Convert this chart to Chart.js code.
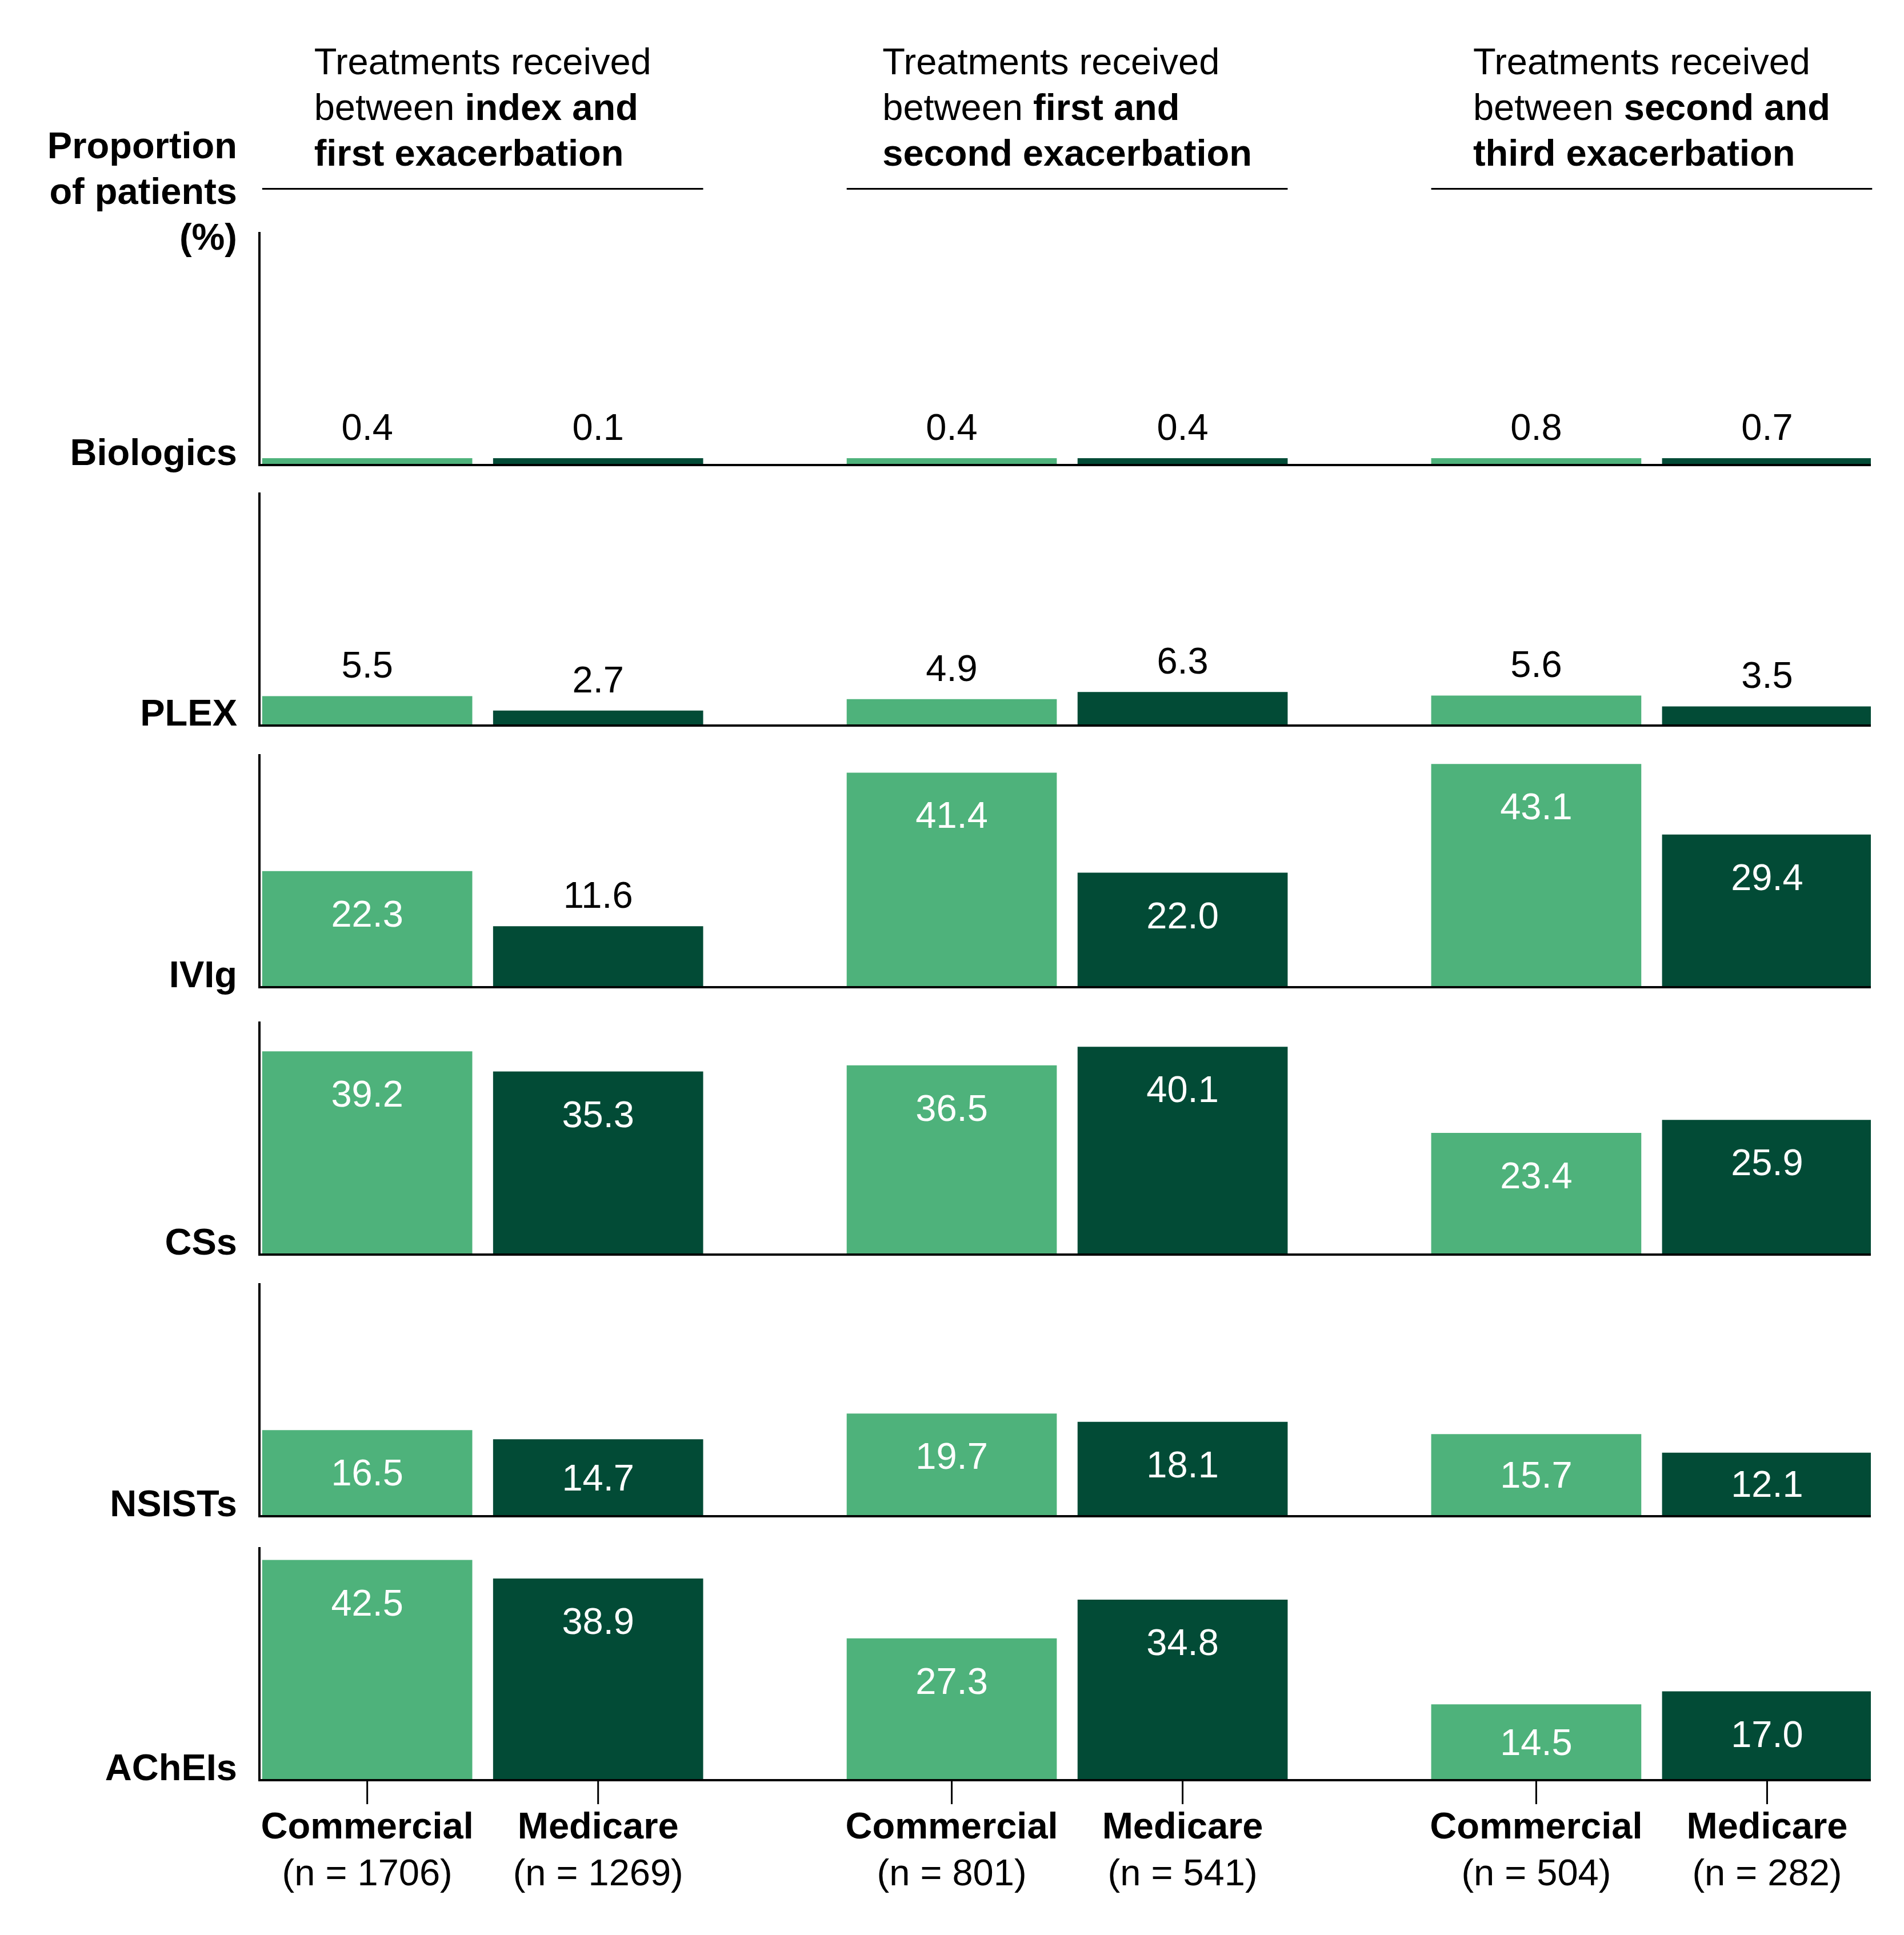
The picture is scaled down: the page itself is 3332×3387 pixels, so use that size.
<!DOCTYPE html>
<html>
<head>
<meta charset="utf-8">
<script src="https://cdn.jsdelivr.net/npm/chart.js@4.4.1/dist/chart.umd.min.js"></script>
<style>
  html, body { margin: 0; padding: 0; background: #fff; }
  #page { position: relative; width: 3332px; height: 3387px; overflow: hidden; }
  #page canvas { position: absolute; left: 0; }
</style>
</head>
<body>
<div id="page"></div>
<script>
// ---- data ----
const treatments = ['Biologics', 'PLEX', 'IVIg', 'CSs', 'NSISTs', 'AChEIs'];
const periods = [0, 1, 2];
const cohorts = ['Commercial', 'Medicare'];
const cohortSizes = [[1706, 1269], [801, 541], [504, 282]];

// rows follow treatments, columns follow periods
const commercialPct = [
  [0.4, 0.4, 0.8],
  [5.5, 4.9, 5.6],
  [22.3, 41.4, 43.1],
  [39.2, 36.5, 23.4],
  [16.5, 19.7, 15.7],
  [42.5, 27.3, 14.5]
];
const medicarePct = [
  [0.1, 0.4, 0.7],
  [2.7, 6.3, 3.5],
  [11.6, 22.0, 29.4],
  [35.3, 40.1, 25.9],
  [14.7, 18.1, 12.1],
  [38.9, 34.8, 17.0]
];

const yTitle = ['Proportion', 'of patients', '(%)'];
// [text, bold] pieces per line
const periodHeaders = [
  [[['Treatments received', false]], [['between ', false], ['index and', true]], [['first exacerbation', true]]],
  [[['Treatments received', false]], [['between ', false], ['first and', true]], [['second exacerbation', true]]],
  [[['Treatments received', false]], [['between ', false], ['second and', true]], [['third exacerbation', true]]]
];

// ---- layout ----
const W = 3332, H = 3387;
const plotLeft = 456, plotRight = 3274;
const panelBase = [812, 1268, 1726, 2194, 2652, 3114];
const panelH = 406;
const yMax = 45;
const lightGreen = '#4eb27b';
const darkGreen = '#024b36';
const FONT = '"Liberation Sans", Arial, Helvetica, sans-serif';
const FS = 65;

function drawPieces(ctx, pieces, x, y) {
  pieces.forEach(([t, b]) => {
    ctx.font = (b ? 'bold ' : '') + FS + 'px ' + FONT;
    ctx.fillText(t, x, y);
    x += ctx.measureText(t).width;
  });
}
function piecesWidth(ctx, pieces) {
  let w = 0;
  pieces.forEach(([t, b]) => {
    ctx.font = (b ? 'bold ' : '') + FS + 'px ' + FONT;
    w += ctx.measureText(t).width;
  });
  return w;
}

const decor = {
  id: 'decor',
  afterDatasetsDraw(chart, args, opts) {
    const ctx = chart.ctx;
    const a = chart.chartArea;
    ctx.save();

    // value labels
    chart.data.datasets.forEach((ds, d) => {
      chart.getDatasetMeta(d).data.forEach((bar, i) => {
        const v = ds.data[i].y;
        ctx.font = FS + 'px ' + FONT;
        ctx.textAlign = 'center';
        ctx.textBaseline = 'alphabetic';
        let cy;
        if (v < 12) {
          ctx.fillStyle = '#000';
          cy = bar.y - 55;
        } else {
          ctx.fillStyle = '#fff';
          cy = Math.min((bar.y + bar.base) / 2, bar.y + 74);
        }
        ctx.fillText(v.toFixed(1), bar.x, cy + 23);
      });
    });

    // axis lines
    ctx.fillStyle = '#000';
    ctx.fillRect(a.left - 4, a.top, 4, a.bottom - a.top + 4);
    ctx.fillRect(a.left - 4, a.bottom, a.right - a.left + 4, 4);

    // row label
    ctx.font = 'bold ' + FS + 'px ' + FONT;
    ctx.textAlign = 'right';
    ctx.textBaseline = 'alphabetic';
    ctx.fillText(opts.label, 415, a.bottom + 2);

    const mc = chart.getDatasetMeta(0).data;
    const mm = chart.getDatasetMeta(1).data;

    if (opts.header) {
      // y title
      yTitle.forEach((t, k) => ctx.fillText(t, 415, 277 + k * 80));
      // period headers
      ctx.textAlign = 'left';
      periods.forEach(g => {
        const cx = chart.scales.x.getPixelForValue(g);
        const lines = periodHeaders[g];
        const maxW = Math.max(...lines.map(l => piecesWidth(ctx, l)));
        lines.forEach((l, k) => drawPieces(ctx, l, cx - maxW / 2, 130 + k * 80));
        const x0 = mc[g].x - mc[g].width / 2;
        const x1 = mm[g].x + mm[g].width / 2;
        ctx.fillRect(x0, 329, x1 - x0, 3);
      });
    }

    if (opts.xLabels) {
      ctx.textAlign = 'center';
      periods.forEach(g => {
        [mc[g], mm[g]].forEach((bar, c) => {
          ctx.fillRect(bar.x - 1.5, a.bottom + 4, 3, 40);
          ctx.font = 'bold ' + FS + 'px ' + FONT;
          ctx.fillText(cohorts[c], bar.x, a.bottom + 104);
          ctx.font = FS + 'px ' + FONT;
          ctx.fillText('(n = ' + cohortSizes[g][c] + ')', bar.x, a.bottom + 186);
        });
      });
    }
    ctx.restore();
  }
};

const page = document.getElementById('page');
treatments.forEach((name, i) => {
  const top = i === 0 ? 0 : panelBase[i - 1] + 20;
  const bottom = i === treatments.length - 1 ? H : panelBase[i] + 20;
  const cv = document.createElement('canvas');
  cv.width = W;
  cv.height = bottom - top;
  cv.style.width = W + 'px';
  cv.style.height = (bottom - top) + 'px';
  cv.style.top = top + 'px';
  page.appendChild(cv);

  new Chart(cv, {
    type: 'bar',
    data: {
      datasets: [
        { label: cohorts[0], data: periods.map(g => ({ x: g, y: commercialPct[i][g] })), backgroundColor: lightGreen },
        { label: cohorts[1], data: periods.map(g => ({ x: g, y: medicarePct[i][g] })), backgroundColor: darkGreen }
      ]
    },
    options: {
      responsive: false,
      animation: false,
      devicePixelRatio: 1,
      layout: {
        padding: { left: plotLeft, right: W - plotRight, top: panelBase[i] - panelH - top, bottom: bottom - panelBase[i] }
      },
      datasets: { bar: { categoryPercentage: 0.79, barPercentage: 0.91, minBarLength: 10 } },
      scales: {
        x: {
          type: 'linear', display: false, offset: false, bounds: 'data', min: -0.38, max: 2.375,
          grid: { offset: false },
          ticks: { stepSize: 1, includeBounds: false },
          afterBuildTicks: s => { s.ticks = periods.map(v => ({ value: v })); }
        },
        y: { display: false, min: 0, max: yMax }
      },
      plugins: {
        legend: { display: false },
        tooltip: { enabled: false },
        decor: { label: name, header: i === 0, xLabels: i === treatments.length - 1 }
      }
    },
    plugins: [decor]
  });
});
</script>
</body>
</html>
